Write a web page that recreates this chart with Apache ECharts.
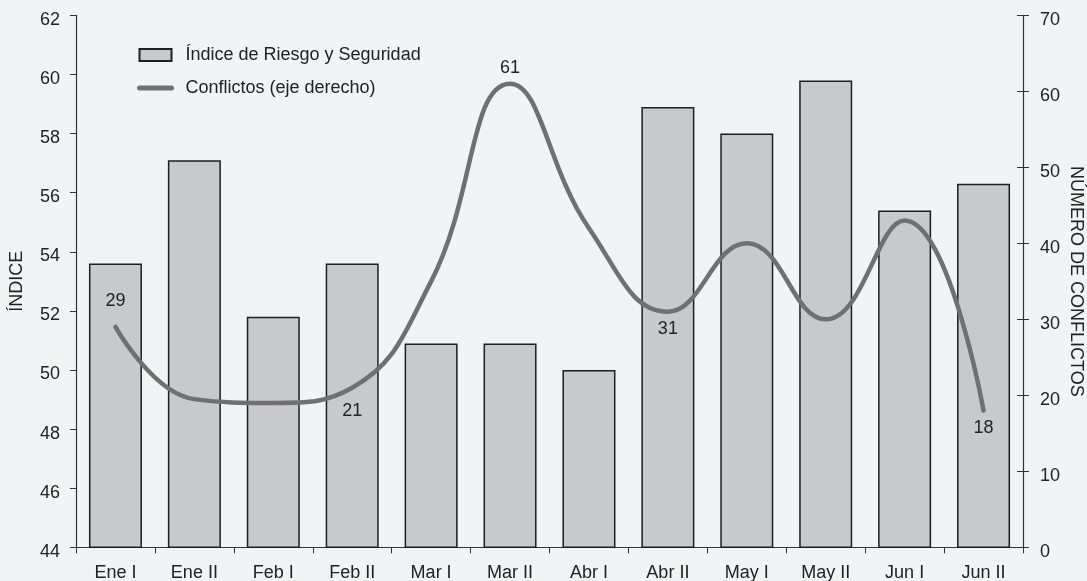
<!DOCTYPE html>
<html>
<head>
<meta charset="utf-8">
<script src="https://cdn.jsdelivr.net/npm/echarts@6/dist/echarts.min.js"></script>
<style>
  html, body { margin: 0; padding: 0; background: #f2f3f5; }
  #chart { width: 1087px; height: 581px; }
</style>
</head>
<body>
<div id="chart"></div>
<script>
// Quincenas (primer semestre)
const categories = ['Ene I', 'Ene II', 'Feb I', 'Feb II', 'Mar I', 'Mar II',
                    'Abr I', 'Abr II', 'May I', 'May II', 'Jun I', 'Jun II'];

// Índice de Riesgo y Seguridad (eje izquierdo)
const indice = [53.6, 57.1, 51.8, 53.6, 50.9, 50.9, 50.0, 58.9, 58.0, 59.8, 55.4, 56.3];

// Número de conflictos (eje derecho)
const conflictos = [29, 19.5, 19, 21, 35, 61, 42, 31, 40, 30, 43, 18];

// Quincenas cuyo valor de conflictos se rotula
const etiquetados = [0, 3, 5, 7, 11];

const FONT = '"Liberation Sans", Arial, sans-serif';
const FS = 18;
const TXT = '#222222';
const AXIS = '#333333';
const LINE = '#707070';

// Posición de cada rótulo respecto a su punto
const labelPlace = {
  0: { position: 'top', distance: 16 },
  3: { position: 'bottom', distance: 14 },
  5: { position: 'top', distance: 6 },
  7: { position: 'bottom', distance: 8 },
  11: { position: 'bottom', distance: 8 }
};

// Puntos rotulados (serie auxiliar sin símbolo visible)
const labelPoints = etiquetados.map(i => ({
  value: [i, conflictos[i]],
  label: Object.assign({ show: true }, labelPlace[i])
}));

// Rótulos de los ejes verticales, algo bajados respecto a su marca
const tickLabel = {
  fontFamily: FONT, fontSize: FS, color: TXT,
  formatter: v => '{t|' + v + '}',
  rich: { t: { fontFamily: FONT, fontSize: FS, color: TXT, padding: [9, 0, 0, 0] } }
};

const chart = echarts.init(document.getElementById('chart'), null, { renderer: 'canvas' });

chart.setOption({
  backgroundColor: '#f2f3f5',
  animation: false,
  textStyle: { fontFamily: FONT, color: TXT },
  grid: {
    left: 76, right: 64, top: 15.4, bottom: 33.7,
    containLabel: false,
    outerBoundsMode: 'none'
  },
  legend: {
    orient: 'vertical',
    left: 137,
    top: 46,
    padding: 0,
    itemWidth: 32,
    itemHeight: 12,
    itemGap: 15,
    textStyle: { fontFamily: FONT, fontSize: FS, color: TXT, padding: [0, 0, 0, 9] },
    data: [
      { name: 'Índice de Riesgo y Seguridad', icon: 'rect' },
      {
        name: 'Conflictos (eje derecho)',
        itemStyle: { opacity: 0 },
        lineStyle: { width: 5, color: LINE }
      }
    ]
  },
  xAxis: {
    type: 'category',
    data: categories,
    boundaryGap: true,
    axisLine: { lineStyle: { color: AXIS, width: 1.2 } },
    axisTick: { show: true, length: 6, lineStyle: { color: AXIS } },
    axisLabel: { fontFamily: FONT, fontSize: FS, color: TXT, margin: 17 }
  },
  yAxis: [
    {
      type: 'value',
      min: 44, max: 62, interval: 2,
      position: 'left',
      name: 'ÍNDICE',
      nameLocation: 'middle',
      nameRotate: 90,
      nameGap: 50,
      nameMoveOverlap: false,
      nameTextStyle: { fontFamily: FONT, fontSize: FS, color: TXT },
      axisLine: { show: true, lineStyle: { color: AXIS, width: 1.2 } },
      axisTick: { show: true, length: 6, lineStyle: { color: AXIS } },
      axisLabel: Object.assign({ margin: 16 }, tickLabel),
      splitLine: { show: false }
    },
    {
      type: 'value',
      min: 0, max: 70, interval: 10,
      position: 'right',
      name: 'NÚMERO DE CONFLICTOS',
      nameLocation: 'middle',
      nameRotate: -90,
      nameGap: 44,
      nameMoveOverlap: false,
      nameTextStyle: { fontFamily: FONT, fontSize: FS, color: TXT },
      axisLine: { show: true, lineStyle: { color: AXIS, width: 1.2 } },
      axisTick: { show: true, length: 6, lineStyle: { color: AXIS } },
      axisLabel: Object.assign({ margin: 17 }, tickLabel),
      splitLine: { show: false }
    },
    {
      // marcas interiores del eje derecho (cruzan la línea del eje)
      type: 'value',
      min: 0, max: 70, interval: 10,
      position: 'right',
      axisLine: { show: false },
      axisTick: { show: true, inside: true, length: 6, lineStyle: { color: AXIS } },
      axisLabel: { show: false },
      splitLine: { show: false }
    }
  ],
  series: [
    {
      name: 'Índice de Riesgo y Seguridad',
      type: 'bar',
      yAxisIndex: 0,
      data: indice,
      barWidth: 53,
      itemStyle: { color: '#c8c9cb', borderColor: '#1e1e1e', borderWidth: 1.5 },
      z: 2
    },
    {
      name: 'Conflictos (eje derecho)',
      type: 'line',
      yAxisIndex: 1,
      data: conflictos,
      smooth: 0.45,
      symbol: 'none',
      showSymbol: false,
      lineStyle: { color: LINE, width: 4.5, cap: 'round' },
      itemStyle: { color: LINE },
      z: 5
    },
    {
      name: 'rotulos',
      type: 'scatter',
      yAxisIndex: 1,
      data: labelPoints,
      symbol: 'circle',
      symbolSize: 1,
      silent: true,
      itemStyle: { color: 'rgba(0,0,0,0)' },
      label: { fontFamily: FONT, fontSize: FS, color: TXT, opacity: 1, formatter: p => String(p.value[1]) },
      z: 6
    }
  ]
});
</script>
</body>
</html>
